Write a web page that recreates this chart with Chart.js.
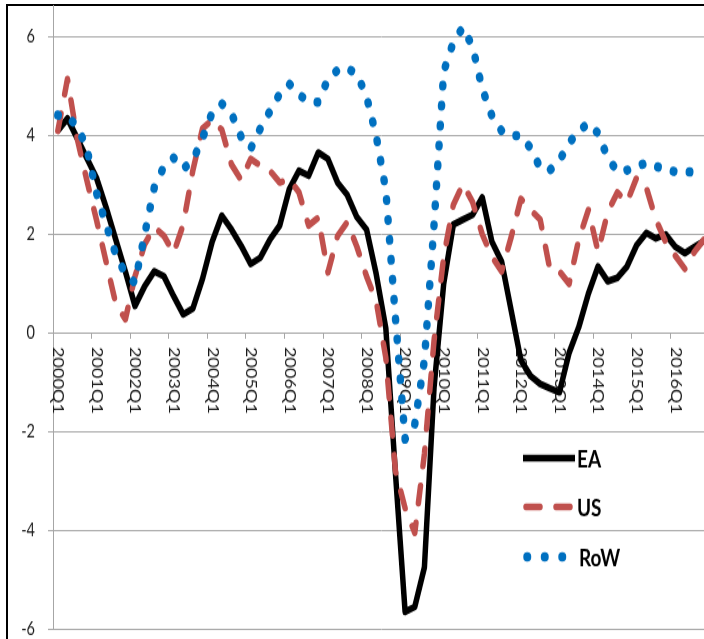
<!DOCTYPE html>
<html>
<head>
<meta charset="utf-8">
<script src="https://cdn.jsdelivr.net/npm/chart.js"></script>
<style>
html, body { margin: 0; padding: 0; background: #fff; overflow: hidden; width: 704px; height: 639px; }
#frame { position: absolute; left: 6px; top: 4px; width: 740px; height: 680px; border-left: 2.5px solid #000; border-top: 2.5px solid #000; }
#wrap { position: absolute; left: 0; top: 0; width: 710px; height: 511px; transform: scaleY(1.25); transform-origin: 0 0; }
canvas { display: block; }
</style>
</head>
<body>
<div id="frame"></div>
<div id="wrap"><canvas id="c" width="710" height="511"></canvas></div>
<script>
// ---- data ----
const categories = [
  "2000Q1","2000Q2","2000Q3","2000Q4","2001Q1","2001Q2","2001Q3","2001Q4",
  "2002Q1","2002Q2","2002Q3","2002Q4","2003Q1","2003Q2","2003Q3","2003Q4",
  "2004Q1","2004Q2","2004Q3","2004Q4","2005Q1","2005Q2","2005Q3","2005Q4",
  "2006Q1","2006Q2","2006Q3","2006Q4","2007Q1","2007Q2","2007Q3","2007Q4",
  "2008Q1","2008Q2","2008Q3","2008Q4","2009Q1","2009Q2","2009Q3","2009Q4",
  "2010Q1","2010Q2","2010Q3","2010Q4","2011Q1","2011Q2","2011Q3","2011Q4",
  "2012Q1","2012Q2","2012Q3","2012Q4","2013Q1","2013Q2","2013Q3","2013Q4",
  "2014Q1","2014Q2","2014Q3","2014Q4","2015Q1","2015Q2","2015Q3","2015Q4",
  "2016Q1","2016Q2","2016Q3","2016Q4"
];
const eaValues = [
  4.10, 4.35, 3.95, 3.55, 3.15, 2.55, 1.90, 1.25, 0.55, 0.95,
  1.25, 1.15, 0.75, 0.38, 0.50, 1.10, 1.85, 2.38, 2.10, 1.77,
  1.40, 1.53, 1.90, 2.18, 2.92, 3.29, 3.19, 3.66, 3.53, 3.05,
  2.80, 2.35, 2.10, 1.20, 0.10, -2.85, -5.65, -5.55, -4.75, -1.10,
  1.00, 2.20, 2.30, 2.40, 2.75, 1.85, 1.45, 0.45, -0.55, -0.87,
  -1.03, -1.12, -1.20, -0.40, 0.12, 0.80, 1.35, 1.05, 1.12, 1.35,
  1.78, 2.03, 1.92, 2.00, 1.75, 1.62, 1.75, 1.87
];
const usValues = [
  4.10, 5.15, 3.95, 3.10, 2.30, 1.45, 0.60, 0.28, 1.15, 1.80,
  2.15, 1.97, 1.62, 2.20, 3.30, 4.15, 4.32, 4.12, 3.42, 3.10,
  3.53, 3.39, 3.29, 3.05, 3.12, 2.85, 2.18, 2.34, 1.23, 1.97,
  2.25, 1.75, 1.15, 0.65, -0.50, -2.80, -3.55, -4.05, -2.45, -0.15,
  1.55, 2.60, 3.02, 2.65, 2.00, 1.55, 1.25, 1.95, 2.72, 2.50,
  2.30, 1.30, 1.25, 1.00, 1.90, 2.50, 1.65, 2.45, 2.85, 2.65,
  3.15, 2.95, 2.30, 1.85, 1.57, 1.30, 1.65, 1.90
];
const rowValues = [
  4.42, 4.38, 4.20, 3.75, 2.85, 2.20, 1.60, 1.20, 1.02, 2.00,
  2.95, 3.38, 3.55, 3.33, 3.50, 3.95, 4.47, 4.65, 4.45, 3.98,
  3.74, 4.15, 4.50, 4.85, 5.05, 4.83, 4.70, 4.68, 5.15, 5.33,
  5.37, 5.25, 4.80, 4.00, 2.90, 0.30, -2.15, -1.85, -0.55, 2.20,
  5.30, 5.90, 6.20, 5.80, 4.95, 4.40, 4.10, 4.00, 4.00, 3.75,
  3.35, 3.30, 3.50, 3.85, 4.10, 4.25, 4.05, 3.55, 3.28, 3.30,
  3.38, 3.45, 3.38, 3.32, 3.27, 3.27, 3.26, 3.26
];
const seriesNames = ["EA", "US", "RoW"];
const yTickValues = [-6, -4, -2, 0, 2, 4, 6];

// ---- styles ----
const GRID = "#a6a6a6";
const TEXT = "#1a1a1a";
const FONT = "Lato";

const xLabelPlugin = {
  id: "xLabels",
  beforeDatasetsDraw(chart) {
    const ctx = chart.ctx, xs = chart.scales.x, ys = chart.scales.y;
    const y0 = ys.getPixelForValue(0);
    ctx.save();
    ctx.font = "14.5px " + FONT;
    ctx.fillStyle = TEXT;
    ctx.textAlign = "left";
    ctx.textBaseline = "middle";
    categories.forEach((c, i) => {
      if (!c.endsWith("Q1")) return;
      const x = xs.getPixelForValue(i);
      ctx.save();
      ctx.translate(x, y0 + 11);
      ctx.rotate(Math.PI / 2);
      ctx.fillText(c, 0, 0);
      ctx.restore();
    });
    ctx.restore();
  }
};

const legendPlugin = {
  id: "insideLegend",
  afterDatasetsDraw(chart) {
    const ctx = chart.ctx;
    const rows = [366.4, 405.6, 445.6];
    ctx.save();
    chart.data.datasets.forEach((ds, k) => {
      const y = rows[k];
      ctx.save();
      ctx.strokeStyle = ds.borderColor;
      ctx.lineWidth = ds.borderWidth;
      ctx.lineCap = ds.borderCapStyle || "butt";
      ctx.setLineDash(ds.borderDash || []);
      ctx.beginPath();
      if (k === 0) { ctx.moveTo(523, y); ctx.lineTo(575, y); }
      else if (k === 1) { ctx.moveTo(526, y); ctx.lineTo(572, y); }
      else { ctx.setLineDash([0.5, 17]); ctx.moveTo(527, y); ctx.lineTo(565, y); }
      ctx.stroke();
      ctx.restore();
      ctx.font = "bold 19px " + FONT;
      ctx.fillStyle = "#000";
      ctx.textAlign = "left";
      ctx.textBaseline = "middle";
      ctx.fillText(ds.label, k === 2 ? 579 : 577, y + 1);
    });
    ctx.restore();
  }
};

function build() {
  new Chart(document.getElementById("c"), {
    type: "line",
    data: {
      labels: categories,
      datasets: [
        { label: seriesNames[0], data: eaValues, borderColor: "#000000", borderWidth: 5.5,
          pointRadius: 0, tension: 0, borderJoinStyle: "round", borderCapStyle: "butt", order: 3, fill: false },
        { label: seriesNames[1], data: usValues, borderColor: "#C0504D", borderWidth: 5.5,
          borderDash: [14, 16], pointRadius: 0, tension: 0, borderJoinStyle: "round", borderCapStyle: "round", order: 2, fill: false },
        { label: seriesNames[2], data: rowValues, borderColor: "#0070C0", borderWidth: 7.5,
          borderDash: [0.5, 15.5], pointRadius: 0, tension: 0, borderJoinStyle: "round", borderCapStyle: "round", order: 1, fill: false }
      ]
    },
    options: {
      responsive: false,
      animation: false,
      devicePixelRatio: 1,
      layout: { padding: { left: 0, right: 1, top: 4.8, bottom: 7.8 } },
      plugins: { legend: { display: false }, tooltip: { enabled: false } },
      scales: {
        x: {
          type: "category",
          offset: true,
          position: { y: 0 },
          grid: {
            display: true, drawOnChartArea: false, drawTicks: true, tickLength: 4, offset: true,
            color: (c) => (c.index !== undefined && c.index % 4 === 0) ? GRID : "rgba(0,0,0,0)",
            lineWidth: 1
          },
          border: { display: true, color: GRID, width: 1 },
          ticks: { display: false },
          afterFit: (s) => { s.paddingLeft = 0; s.paddingRight = 0; s.paddingTop = 0; s.paddingBottom = 0; }
        },
        y: {
          min: -6, max: 6.63,
          afterBuildTicks: (s) => { s.ticks = yTickValues.map(v => ({ value: v })); },
          afterFit: (s) => { s.width = 53; s.paddingTop = 0; s.paddingBottom = 0; },
          grid: { color: GRID, lineWidth: 1, drawTicks: true, tickLength: 5 },
          border: { display: true, color: GRID, width: 1 },
          ticks: { font: { family: FONT, size: 14.5 }, color: TEXT, padding: 13 }
        }
      }
    },
    plugins: [xLabelPlugin, legendPlugin]
  });
}

if (document.fonts && document.fonts.load) {
  Promise.all([
    document.fonts.load("14.5px " + FONT),
    document.fonts.load("bold 19px " + FONT)
  ]).then(build, build);
} else {
  build();
}
</script>
</body>
</html>
